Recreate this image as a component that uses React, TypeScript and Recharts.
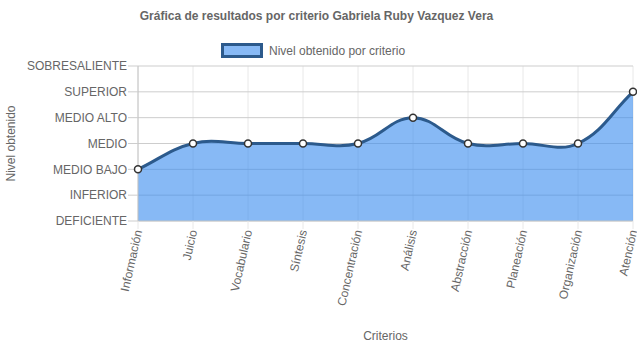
import React from 'react';
import {
  AreaChart, Area, XAxis, YAxis, CartesianGrid, Label,
} from 'recharts';

const criterios = [
  'Información', 'Juicio', 'Vocabulario', 'Síntesis', 'Concentración',
  'Análisis', 'Abstracción', 'Planeación', 'Organización', 'Atención',
];
const niveles = [2, 3, 3, 3, 3, 4, 3, 3, 3, 5];
const nivelLabels = [
  'DEFICIENTE', 'INFERIOR', 'MEDIO BAJO', 'MEDIO', 'MEDIO ALTO', 'SUPERIOR', 'SOBRESALIENTE',
];
const nivelTicks = [0, 1, 2, 3, 4, 5, 6];

const data = criterios.map((c, i) => ({ criterio: c, nivel: niveles[i] }));

const FONT = '"Liberation Sans", Arial, Helvetica, sans-serif';
const TEXT = '#666';
const LINE = '#2c5a8c';
const FILL = 'rgba(55,138,238,0.6)';

// chart.js style spline (tension 0.4) as a d3 curve factory
const TENSION = 0.4;
const chartJsCurve = (context: any) => {
  let pts: number[][] = [];
  let line = NaN;
  return {
    areaStart() { line = 0; },
    areaEnd() { line = NaN; },
    lineStart() { pts = []; },
    lineEnd() {
      const n = pts.length;
      if (n) {
        if (line) context.lineTo(pts[0][0], pts[0][1]);
        else context.moveTo(pts[0][0], pts[0][1]);
        const cps = pts.map((p, i) => {
          const prev = pts[i - 1] || p;
          const next = pts[i + 1] || p;
          const d01 = Math.hypot(p[0] - prev[0], p[1] - prev[1]);
          const d12 = Math.hypot(next[0] - p[0], next[1] - p[1]);
          const sum = d01 + d12;
          const fa = TENSION * (sum ? d01 / sum : 0);
          const fb = TENSION * (sum ? d12 / sum : 0);
          return {
            prev: [p[0] - fa * (next[0] - prev[0]), p[1] - fa * (next[1] - prev[1])],
            next: [p[0] + fb * (next[0] - prev[0]), p[1] + fb * (next[1] - prev[1])],
          };
        });
        for (let i = 1; i < n; i++) {
          context.bezierCurveTo(
            cps[i - 1].next[0], cps[i - 1].next[1],
            cps[i].prev[0], cps[i].prev[1],
            pts[i][0], pts[i][1],
          );
        }
      }
      if (line || (line !== 0 && n === 1)) context.closePath();
      line = 1 - line;
    },
    point(x: number, y: number) { pts.push([+x, +y]); },
  };
};

const XTick = ({ x, y, payload }: any) => (
  <g transform={`translate(${x},${y - 1})`}>
    <text transform="rotate(-77.5)" textAnchor="end" dy="0.35em" fill={TEXT} fontSize={12} fontFamily={FONT}>
      {payload.value}
    </text>
  </g>
);

export default function App() {
  return (
    <div style={{ position: 'absolute', left: 0, top: 0, width: 637, height: 348, fontFamily: FONT, background: '#fff' }}>
      <div style={{
        position: 'absolute', left: 0, top: 9, width: 633, textAlign: 'center',
        fontSize: 12, fontWeight: 'bold', color: TEXT, lineHeight: '14px',
      }}>
        Gráfica de resultados por criterio Gabriela Ruby Vazquez Vera
      </div>
      <div style={{ position: 'absolute', left: 221, top: 43, display: 'flex', alignItems: 'center' }}>
        <div style={{
          width: 42, height: 15, boxSizing: 'border-box',
          border: `3px solid ${LINE}`, background: FILL,
        }} />
        <span style={{ marginLeft: 6, fontSize: 12, color: TEXT, lineHeight: '14px' }}>
          Nivel obtenido por criterio
        </span>
      </div>
      <AreaChart width={637} height={348} data={data} margin={{ top: 66, right: 4, left: 0, bottom: 0 }}>
        <CartesianGrid horizontal={false} stroke="#e8e8e8" />
        <CartesianGrid vertical={false} stroke="#cdcdcd" />
        <XAxis
          dataKey="criterio"
          height={127}
          interval={0}
          tick={<XTick />}
          tickSize={8}
          tickMargin={2}
          tickLine={{ stroke: '#e8e8e8' }}
          axisLine={{ stroke: '#cdcdcd' }}
        >
          <Label
            content={(p: any) => {
              const vb = p.viewBox;
              return (
                <text x={vb.x + vb.width / 2} y={vb.y + 115} textAnchor="middle" dy="0.35em"
                  fill={TEXT} fontSize={12} fontFamily={FONT}>
                  Criterios
                </text>
              );
            }}
          />
        </XAxis>
        <YAxis
          type="number"
          domain={[0, 6]}
          ticks={nivelTicks}
          interval={0}
          width={138}
          tickSize={10}
          tickMargin={1}
          tickFormatter={(v: number) => nivelLabels[v]}
          tick={{ fill: TEXT, fontSize: 12, fontFamily: FONT }}
          tickLine={{ stroke: '#cdcdcd' }}
          axisLine={{ stroke: '#c4c4c4' }}
        >
          <Label
            content={(p: any) => {
              const vb = p.viewBox;
              const cy = vb.y + vb.height / 2;
              return (
                <text x={11} y={cy} transform={`rotate(-90, 11, ${cy})`} textAnchor="middle" dy="0.35em"
                  fill={TEXT} fontSize={12} fontFamily={FONT}>
                  Nivel obtenido
                </text>
              );
            }}
          />
        </YAxis>
        <Area
          type={chartJsCurve as any}
          dataKey="nivel"
          stroke={LINE}
          strokeWidth={3}
          fill={FILL}
          fillOpacity={1}
          dot={{ r: 3.5, fill: '#fff', stroke: '#333', strokeWidth: 1.5 }}
          activeDot={false}
          isAnimationActive={false}
        />
      </AreaChart>
    </div>
  );
}
